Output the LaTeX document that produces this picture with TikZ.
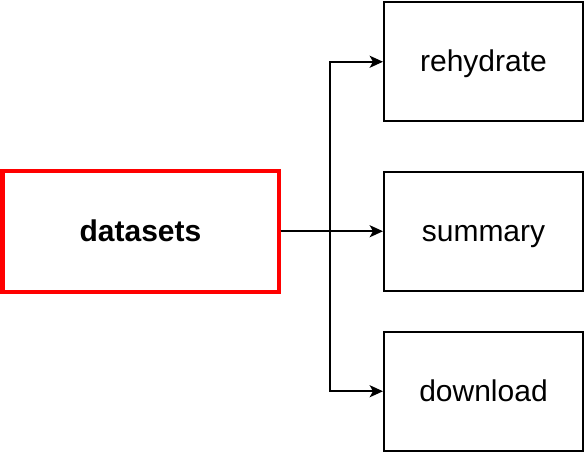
\documentclass[tikz,border=0pt]{standalone}
\usepackage{fontspec}
\setmainfont{Liberation Sans}
\usetikzlibrary{arrows.meta}
\begin{document}
\begin{tikzpicture}[x=0.75pt,y=-0.75pt,
  txt/.style={text height=20pt,text depth=5pt},
  box/.style={draw=black,line width=1.5pt,minimum width=199*0.75pt,minimum height=119*0.75pt,inner sep=0pt,font=\fontsize{22.5}{27}\selectfont,txt},
  mainbox/.style={draw=red,line width=3pt,minimum width=276*0.75pt,minimum height=120*0.75pt,inner sep=0pt,font=\fontsize{22.5}{27}\selectfont\bfseries,txt},
  conn/.style={draw=black,line width=1.5pt,-{Stealth[length=10pt,width=9pt,inset=2.5pt]}}]
\useasboundingbox (0,0) rectangle (585,452);
\node[mainbox] (d) at (140.5,231.5) {datasets};
\node[box] (r) at (483.5,61.75) {rehydrate};
\node[box] (s) at (483.5,231.25) {summary};
\node[box] (w) at (483.5,391.25) {download};
\coordinate (j) at (330,231.5);
\draw[conn] (d.east) -- (j) |- (r.west);
\draw[conn] (d.east) -- (j) |- (s.west);
\draw[conn] (d.east) -- (j) |- (w.west);
\end{tikzpicture}
\end{document}
